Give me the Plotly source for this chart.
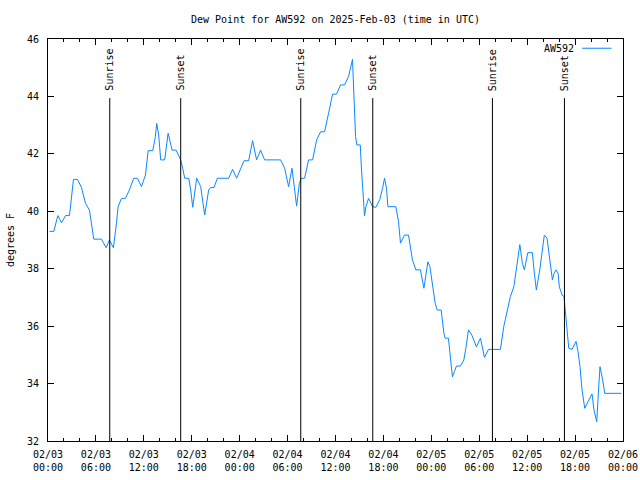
import pandas as pd
import plotly.graph_objects as go

start = "2025-02-03 00:00"
# hours since start
hours = [0.19, 0.73, 1.23, 1.69, 2.19, 2.69, 3.19, 3.69, 4.19, 4.69, 5.19, 5.44, 5.73, 6.69,
         7.28, 7.69, 8.19, 8.57, 8.78, 9.20, 9.69, 10.19, 10.73, 11.20, 11.70, 12.20, 12.54,
         13.11, 13.45, 13.61, 13.86, 14.11, 14.61, 15.04, 15.54, 16.04, 16.61, 16.86, 17.12,
         17.62, 17.87, 18.12, 18.45, 18.62, 19.12, 19.62, 20.12, 20.37, 20.79, 21.21, 22.62,
         23.12, 23.62, 24.12, 24.55, 25.12, 25.62, 26.12, 26.62, 27.12, 29.13, 29.63, 30.13,
         30.55, 31.13, 31.47, 31.72, 32.13, 32.63, 33.13, 33.63, 34.13, 34.63, 35.13, 35.63,
         36.13, 36.63, 37.13, 37.63, 38.13, 38.31, 38.51, 38.68, 39.10, 39.26, 39.38, 39.56,
         39.63, 39.81, 40.14, 40.64, 41.06, 41.56, 41.89, 42.14, 42.39, 42.56, 43.56, 43.89,
         44.14, 44.64, 45.14, 45.39, 45.64, 46.07, 46.64, 47.07, 47.32, 47.57, 47.82, 48.14,
         48.48, 48.73, 49.23, 49.57, 49.73, 50.14, 50.39, 50.64, 50.89, 51.14, 51.64, 52.07,
         52.32, 52.65, 53.07, 53.65, 54.15, 54.40, 54.65, 55.15, 56.65, 57.08, 57.49, 57.90,
         58.33, 58.74, 59.08, 59.40, 59.65, 60.08, 60.65, 60.90, 61.15, 61.58, 61.83, 62.15,
         62.49, 62.90, 63.16, 63.37, 63.62, 63.87, 64.03, 64.37, 64.62, 64.71, 64.96, 65.21,
         65.62, 66.12, 66.37, 66.62, 66.87, 67.21, 67.62, 68.12, 68.37, 68.71, 68.96, 69.12,
         69.46, 69.71, 71.79]
dewpoint = [39.30, 39.30, 39.85, 39.60, 39.85, 39.85, 41.11, 41.11, 40.83, 40.28, 40.04, 39.58,
            39.03, 39.03, 38.73, 39.00, 38.73, 39.58, 40.16, 40.45, 40.45, 40.74, 41.15, 41.15,
            40.86, 41.26, 42.11, 42.11, 42.60, 43.06, 42.66, 41.79, 41.79, 42.72, 42.13, 42.13,
            41.79, 41.50, 41.15, 41.15, 40.74, 40.14, 40.74, 41.15, 40.86, 39.87, 40.74, 40.83,
            40.83, 41.15, 41.15, 41.46, 41.15, 41.46, 41.76, 41.76, 42.46, 41.79, 42.13, 41.79,
            41.79, 41.50, 40.86, 41.50, 40.18, 40.97, 41.15, 41.15, 41.79, 41.79, 42.48, 42.77,
            42.77, 43.41, 44.08, 44.08, 44.40, 44.40, 44.69, 45.29, 44.16, 42.60, 42.31, 42.31,
            41.44, 40.74, 40.16, 39.84, 40.16, 40.45, 40.16, 40.14, 40.42, 40.80, 41.15, 40.80,
            40.16, 40.16, 39.64, 38.89, 39.17, 39.17, 38.77, 38.30, 37.96, 37.96, 37.32, 37.84,
            38.24, 38.07, 37.37, 36.80, 36.56, 36.56, 35.75, 35.58, 35.58, 34.90, 34.24, 34.42,
            34.61, 34.61, 34.82, 35.23, 35.87, 35.69, 35.28, 35.58, 35.23, 34.91, 35.19, 35.19,
            36.00, 36.56, 37.03, 37.37, 38.19, 38.84, 38.19, 37.96, 38.56, 38.56, 37.84, 37.26,
            37.96, 38.59, 39.17, 39.06, 38.19, 37.61, 37.84, 37.96, 37.84, 37.37, 37.08, 37.03,
            36.74, 35.87, 35.23, 35.19, 35.47, 35.11, 34.59, 33.78, 33.14, 33.37, 33.64, 33.08,
            32.67, 33.89, 34.59, 34.12, 33.66, 33.66]
sun_times = ["2025-02-03 07:44", "2025-02-03 16:37", "2025-02-04 07:39",
             "2025-02-04 16:40", "2025-02-05 07:39", "2025-02-05 16:40"]
sun_labels = ["Sunrise", "Sunset", "Sunrise", "Sunset", "Sunrise", "Sunset"]
station = "AW592"
title = "Dew Point for AW592 on 2025-Feb-03 (time in UTC)"
y_label = "degrees F"

times = pd.Timestamp(start) + pd.to_timedelta(hours, unit="h")

FONT = "DejaVu Sans Mono"
LINE = "#0a88ff"

fig = go.Figure()
fig.add_trace(go.Scatter(x=times, y=dewpoint, mode="lines",
                         line=dict(color=LINE, width=1), name=station,
                         showlegend=False))

for t, lab in zip(sun_times, sun_labels):
    fig.add_shape(type="line", xref="x", yref="paper", x0=t, x1=t, y0=0, y1=0.853,
                  line=dict(color="black", width=1))
    fig.add_annotation(x=t, y=0.866, xref="x", yref="paper", text=lab, textangle=-90,
                       showarrow=False, xanchor="center", yanchor="bottom",
                       font=dict(family=FONT, size=10, color="black"))

# legend (text then sample line, as in reference)
fig.add_annotation(x=0.918, y=0.977, xref="paper", yref="paper", text=station,
                   showarrow=False, xanchor="right", yanchor="middle",
                   font=dict(family=FONT, size=10, color="black"))
fig.add_shape(type="line", xref="paper", yref="paper", x0=0.929, x1=0.98,
              y0=0.977, y1=0.977, line=dict(color=LINE, width=1))

fig.add_annotation(x=-0.066, y=0.5, xref="paper", yref="paper", text=y_label,
                   textangle=-90, showarrow=False, xanchor="center", yanchor="middle",
                   font=dict(family=FONT, size=10, color="black"))

fig.update_layout(
    width=640, height=480,
    margin=dict(l=48, r=17, t=39, b=39, autoexpand=False),
    paper_bgcolor="white", plot_bgcolor="white",
    title=dict(text=title, x=(48 + 575 / 2) / 640, xanchor="center", y=1 - 19 / 480,
               yanchor="middle", font=dict(family=FONT, size=10, color="black")),
    font=dict(family=FONT, size=10, color="black"),
    xaxis=dict(type="date", range=["2025-02-03 00:00", "2025-02-06 00:00"],
               dtick=6 * 3600 * 1000, tick0="2025-02-03 00:00", automargin=False,
               tickformat="%m/%d<br>%H:%M", ticks="inside", ticklen=6, tickcolor="black",
               showline=True, linecolor="black", linewidth=1, mirror="ticks",
               showgrid=False, zeroline=False, ticklabelstandoff=4,
               minor=dict(dtick=2 * 3600 * 1000, ticks="inside", ticklen=3,
                          tickcolor="black", showgrid=False)),
    yaxis=dict(range=[32, 46], dtick=2, ticks="inside", ticklen=6, tickcolor="black",
               automargin=False,
               showline=True, linecolor="black", linewidth=1, mirror="ticks",
               showgrid=False, zeroline=False, ticklabelstandoff=6),
)

fig.write_html("out.html")
